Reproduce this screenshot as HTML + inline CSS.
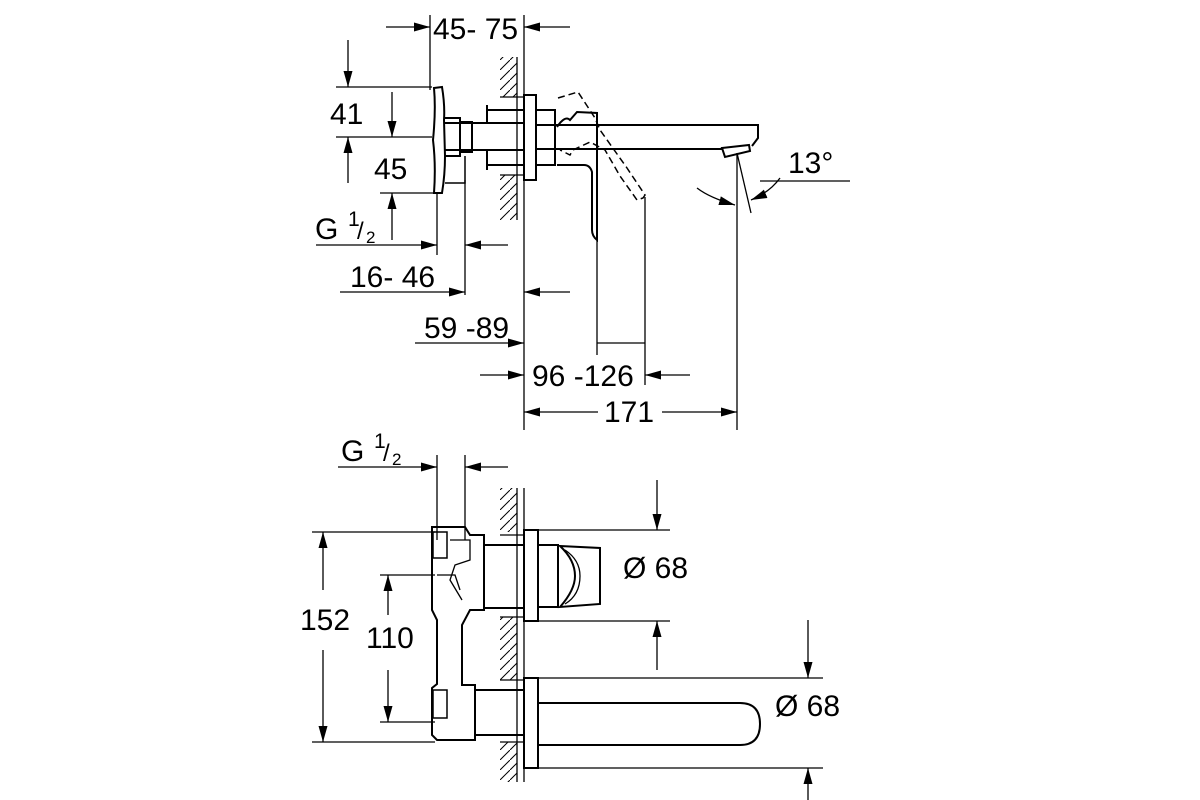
<!DOCTYPE html>
<html><head><meta charset="utf-8"><style>
html,body{margin:0;padding:0;background:#fff}
svg{display:block}
text{font-family:"Liberation Sans",Arial,sans-serif;font-size:30px;fill:#000}
</style></head><body>
<svg width="1200" height="800" viewBox="0 0 1200 800" xmlns="http://www.w3.org/2000/svg">
<defs>
<marker id="a" viewBox="0 0 16 9" refX="16" refY="4.5" markerWidth="16" markerHeight="9" markerUnits="userSpaceOnUse" orient="auto"><path d="M0,0 L16,4.5 L0,9 Z" fill="#000"/></marker>
<pattern id="h" width="10" height="10" patternUnits="userSpaceOnUse"><path d="M-2,12 L12,-2" stroke="#000" stroke-width="1"/></pattern>
</defs>
<g stroke="#000" fill="none" stroke-width="1.3">
<line x1="386" y1="27" x2="430" y2="27" marker-end="url(#a)"/>
<line x1="570" y1="27" x2="524" y2="27" marker-end="url(#a)"/>
<line x1="430" y1="15" x2="430" y2="90"/>
<line x1="524" y1="15" x2="524" y2="430"/>
<rect x="500" y="57" width="17" height="40" fill="url(#h)" stroke="none"/>
<rect x="500" y="175" width="17" height="45" fill="url(#h)" stroke="none"/>
<line x1="517" y1="57" x2="517" y2="220"/>
<line x1="500" y1="97" x2="524" y2="97"/>
<line x1="500" y1="175" x2="524" y2="175"/>
<rect x="524" y="95" width="12" height="85" stroke-width="2"/>
<path d="M445,123 L524,123 M445,150 L524,150 M487,110 L524,110 M487,165 L524,165 M487,105 L487,123 M487,150 L487,170" stroke-width="2"/>
<rect x="460" y="122" width="12" height="30" stroke-width="2"/>
<path d="M445,118 L460,118 L460,156 L445,156" stroke-width="2"/>
<path d="M465,156 L465,183 L445,183" stroke-width="1.5"/>
<path d="M434,88 L442,87 Q445,105 444,120 L445,156 Q445,175 442,193 L434,193 Q436,165 433,140 Q436,110 434,88 Z" stroke-width="2"/>
<rect x="536" y="110" width="19" height="55" stroke-width="2"/>
<path d="M536,125 L758,125 L758,138 L752,146 M536,149 L722,149" stroke-width="2"/>
<path d="M722,148 L749,145 L750,151 L725,157 Z" stroke-width="2"/>
<path d="M557,127 Q565,115 570,120 L577,112 L597,113 L597,240 Q592,236 592,230 L592,172 Q590,165 584,165 L557,165" stroke-width="2"/>
<path d="M558,98 L578,92 L595,118 L600,130 L627,168 L645,195 L643,198 L637,200 L620,176 L605,150 L590,142 L573,150 L570,155 L560,150" stroke-dasharray="7,4" stroke-width="1.5"/>
<line x1="597" y1="240" x2="597" y2="355"/>
<line x1="645" y1="197" x2="645" y2="385"/>
<line x1="597" y1="343" x2="645" y2="343"/>
<line x1="737" y1="153" x2="737" y2="430"/>
<line x1="737" y1="153" x2="751" y2="213"/>
<path d="M697,188 Q710,198 735,205" marker-end="url(#a)"/>
<path d="M780,178 Q770,192 751,200" marker-end="url(#a)"/>
<line x1="760" y1="181" x2="850" y2="181"/>
<line x1="336" y1="87" x2="432" y2="87"/>
<line x1="336" y1="137" x2="432" y2="137"/>
<line x1="380" y1="193" x2="436" y2="193"/>
<line x1="348" y1="40" x2="348" y2="87" marker-end="url(#a)"/>
<line x1="348" y1="183" x2="348" y2="137" marker-end="url(#a)"/>
<line x1="392" y1="92" x2="392" y2="137" marker-end="url(#a)"/>
<line x1="392" y1="240" x2="392" y2="193" marker-end="url(#a)"/>
<line x1="437" y1="193" x2="437" y2="255"/>
<line x1="465" y1="180" x2="465" y2="295"/>
<line x1="316" y1="245" x2="437" y2="245" marker-end="url(#a)"/>
<line x1="508" y1="245" x2="465" y2="245" marker-end="url(#a)"/>
<line x1="340" y1="292" x2="465" y2="292" marker-end="url(#a)"/>
<line x1="570" y1="292" x2="524" y2="292" marker-end="url(#a)"/>
<line x1="415" y1="343" x2="524" y2="343" marker-end="url(#a)"/>
<line x1="480" y1="375" x2="524" y2="375" marker-end="url(#a)"/>
<line x1="690" y1="375" x2="645" y2="375" marker-end="url(#a)"/>
<line x1="560" y1="412" x2="524" y2="412" marker-end="url(#a)"/>
<line x1="700" y1="412" x2="737" y2="412" marker-end="url(#a)"/>
<line x1="560" y1="412" x2="598" y2="412"/>
<line x1="662" y1="412" x2="700" y2="412"/>

<line x1="437" y1="455" x2="437" y2="540"/>
<line x1="465" y1="455" x2="465" y2="540"/>
<line x1="338" y1="467" x2="437" y2="467" marker-end="url(#a)"/>
<line x1="508" y1="467" x2="465" y2="467" marker-end="url(#a)"/>
<rect x="500" y="488" width="17" height="44" fill="url(#h)" stroke="none"/>
<rect x="500" y="617" width="17" height="63" fill="url(#h)" stroke="none"/>
<rect x="500" y="742" width="17" height="40" fill="url(#h)" stroke="none"/>
<line x1="517" y1="488" x2="517" y2="782"/>
<line x1="524" y1="488" x2="524" y2="782"/>
<line x1="500" y1="535" x2="524" y2="535"/>
<line x1="500" y1="617" x2="524" y2="617"/>
<line x1="500" y1="680" x2="524" y2="680"/>
<line x1="500" y1="742" x2="524" y2="742"/>
<rect x="524" y="530" width="14" height="91" stroke-width="2"/>
<rect x="484" y="545" width="40" height="63" stroke-width="2"/>
<path d="M538,545 L558,545 L558,607 L538,607" stroke-width="2"/>
<path d="M560,546 L600,548 L600,604 L560,607 Q575,590 575,576 Q575,560 560,546 Z" stroke-width="2"/>
<path d="M565,550 Q580,560 580,576 Q580,595 565,604" stroke-width="1.3"/>
<line x1="538" y1="530" x2="670" y2="530"/>
<line x1="538" y1="621" x2="670" y2="621"/>
<line x1="657" y1="480" x2="657" y2="530" marker-end="url(#a)"/>
<line x1="657" y1="670" x2="657" y2="621" marker-end="url(#a)"/>
<rect x="524" y="678" width="14" height="90" stroke-width="2"/>
<path d="M538,703 L740,703 Q760,703 760,724 Q760,745 740,745 L538,745" stroke-width="2"/>
<line x1="538" y1="678" x2="823" y2="678"/>
<line x1="538" y1="768" x2="823" y2="768"/>
<line x1="808" y1="620" x2="808" y2="678" marker-end="url(#a)"/>
<line x1="808" y1="800" x2="808" y2="768" marker-end="url(#a)"/>
<path d="M432,527 L465,527 L470,535 L484,535 L484,610 L470,610 L462,625 L462,685 L475,685 L475,740 L437,740 L432,735 L432,688 L437,684 L437,620 L432,610 L432,527 Z" stroke-width="2"/>
<rect x="433" y="532" width="14" height="26" stroke-width="1.5"/>
<rect x="433" y="690" width="14" height="28" stroke-width="1.5"/>
<path d="M450,540 L470,540 L470,560 L455,565 L450,580 L462,600" stroke-width="1.3"/>
<path d="M437,575 L455,575 L460,590" stroke-width="1.3"/>
<rect x="475" y="690" width="49" height="45" stroke-width="2"/>
<line x1="312" y1="532" x2="435" y2="532"/>
<line x1="312" y1="742" x2="435" y2="742"/>
<line x1="323" y1="590" x2="323" y2="532" marker-end="url(#a)"/>
<line x1="323" y1="650" x2="323" y2="742" marker-end="url(#a)"/>
<line x1="380" y1="575" x2="435" y2="575"/>
<line x1="380" y1="722" x2="435" y2="722"/>
<line x1="388" y1="615" x2="388" y2="575" marker-end="url(#a)"/>
<line x1="388" y1="670" x2="388" y2="722" marker-end="url(#a)"/>
</g>
<text x="433" y="39">45- 75</text>
<text x="330" y="124">41</text>
<text x="374" y="179">45</text>
<text x="315" y="239">G</text><text x="348" y="226" style="font-size:21px">1</text><text x="357" y="239" style="font-size:24px">/</text><text x="366" y="243" style="font-size:17px">2</text>
<text x="350" y="287">16- 46</text>
<text x="424" y="338">59 -89</text>
<text x="532" y="386">96 -126</text>
<text x="604" y="422">171</text>
<text x="788" y="173">13°</text>
<text x="341" y="461">G</text><text x="374" y="448" style="font-size:21px">1</text><text x="383" y="461" style="font-size:24px">/</text><text x="392" y="465" style="font-size:17px">2</text>
<text x="623" y="578">Ø 68</text>
<text x="775" y="716">Ø 68</text>
<text x="300" y="630">152</text>
<text x="366" y="648">110</text>
</svg>
</body></html>
